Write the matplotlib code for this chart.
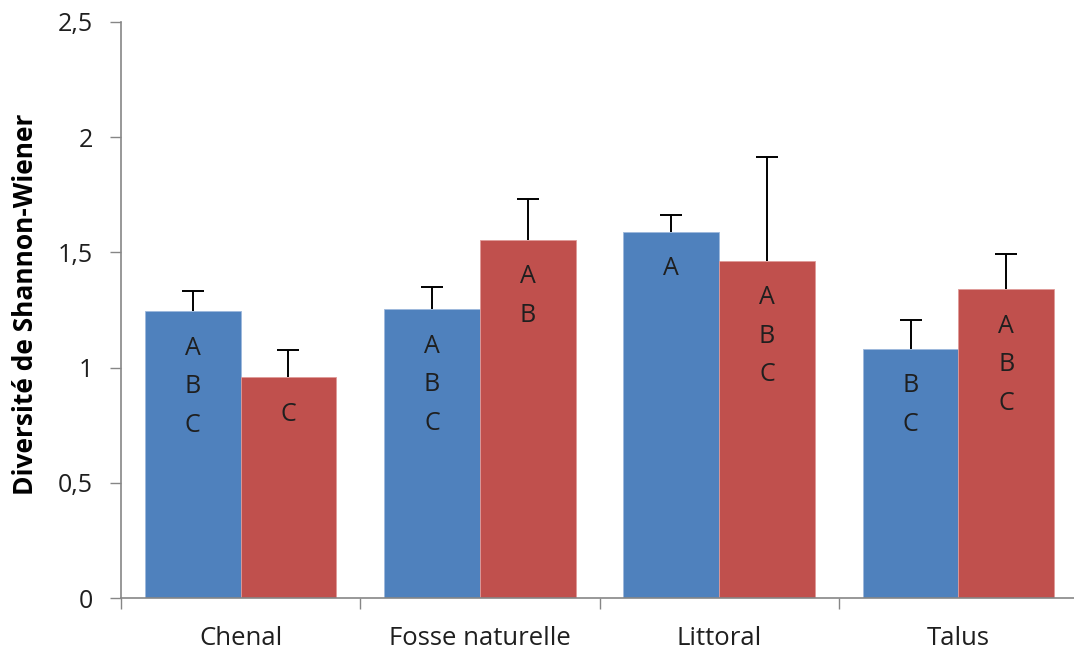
import numpy as np
import matplotlib
matplotlib.use('Agg')
import matplotlib.pyplot as plt

plt.rcParams['font.family'] = ['Open Sans', 'DejaVu Sans']

# Shannon-Wiener diversity per habitat, two series (blue / red)
categories = ['Chenal', 'Fosse naturelle', 'Littoral', 'Talus']
blue_values = [1.245, 1.254, 1.589, 1.081]
blue_errors = [0.088, 0.096, 0.073, 0.126]
red_values = [0.959, 1.554, 1.463, 1.341]
red_errors = [0.117, 0.178, 0.451, 0.152]

# significance groups written inside the bars
blue_letters = [['A', 'B', 'C'], ['A', 'B', 'C'], ['A'], ['B', 'C']]
red_letters = [['C'], ['A', 'B'], ['A', 'B', 'C'], ['A', 'B', 'C']]

blue_color = '#4F81BD'
red_color = '#C0504D'
axis_gray = '#868686'
text_color = '#1f1f1f'

fig = plt.figure(figsize=(10.74, 6.54), dpi=100)
ax = fig.add_axes([121 / 1074, 1 - 598 / 654, (1078 - 121) / 1074, (598 - 22) / 654])

x = np.arange(len(categories))
width = 0.4

ax.bar(x - width / 2, blue_values, width, color=blue_color, edgecolor='#9db8dc', linewidth=0.6, zorder=2)
ax.bar(x + width / 2, red_values, width, color=red_color, edgecolor='#e09a98', linewidth=0.6, zorder=2)


def upper_errors(xs, values, errors):
    # vertical line from the bar top up to value + error, with a cap only at the top
    tops = np.array(values) + np.array(errors)
    ax.vlines(xs, values, tops, color='black', linewidth=1.4, zorder=3)
    ax.plot(xs, tops, linestyle='none', marker='_', markersize=16, markeredgewidth=1.4,
            color='black', zorder=3)


upper_errors(x - width / 2, blue_values, blue_errors)
upper_errors(x + width / 2, red_values, red_errors)


def put_letters(xs, tops, groups):
    for xi, top, letters in zip(xs, tops, groups):
        for k, letter in enumerate(letters):
            off = -(37 + 38.5 * k) * 0.72
            ax.annotate(letter, (xi, top), xytext=(0, off), textcoords='offset points',
                        ha='center', va='center', fontsize=18, color=text_color, zorder=4)


put_letters(x - width / 2, blue_values, blue_letters)
put_letters(x + width / 2, red_values, red_letters)

ax.set_xlim(-0.5, len(categories) - 0.5)
ax.set_ylim(0, 2.5)
ax.set_yticks([0, 0.5, 1, 1.5, 2, 2.5])
ax.set_yticklabels(['0', '0,5', '1', '1,5', '2', '2,5'])

ax.set_xticks(x)
ax.set_xticklabels(categories)
ax.set_xticks(np.arange(len(categories) + 1) - 0.5, minor=True)
ax.tick_params(axis='x', which='major', length=0, pad=20, labelsize=18.5, labelcolor=text_color)
ax.tick_params(axis='x', which='minor', length=8, width=1, color=axis_gray)
ax.tick_params(axis='y', length=8, width=1, color=axis_gray, pad=12, labelsize=18, labelcolor=text_color)

for side in ['top', 'right']:
    ax.spines[side].set_visible(False)
for side in ['left', 'bottom']:
    ax.spines[side].set_color(axis_gray)
    ax.spines[side].set_linewidth(1.2)

ax.set_ylabel('Diversité de Shannon-Wiener', fontsize=19, fontweight='bold', color='black')
ax.yaxis.set_label_coords(-0.086, 0.51)

fig.savefig('out.png', dpi=100)
